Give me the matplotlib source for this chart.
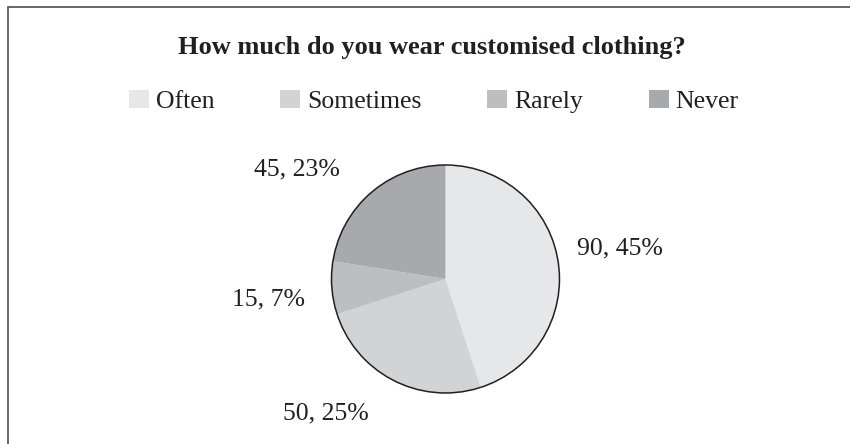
import matplotlib.pyplot as plt
from matplotlib.patches import Circle, Rectangle
import numpy as np

# data
categories = ["Often", "Sometimes", "Rarely", "Never"]
counts = [90, 50, 15, 45]
percent_labels = ["45%", "25%", "7%", "23%"]
title = "How much do you wear customised clothing?"

colors = ["#e6e7e8", "#d1d3d4", "#bcbec0", "#a7a9ac"]
label_dist = [1.55, 1.58, 1.56, 1.62]
label_nudge = [1, -14.7, 2, 13]  # degrees

plt.rcParams['font.family'] = ['Liberation Serif', 'DejaVu Serif']

fig = plt.figure(figsize=(8.5, 4.44), dpi=100)
ax = fig.add_axes([0.39, 0.1149, 0.2682, 0.5135])

wedges, _ = ax.pie(counts, colors=colors, startangle=90, counterclock=False,
                   radius=1, wedgeprops=dict(linewidth=0))
ax.add_patch(Circle((0, 0), 1, fill=False, edgecolor="#231f20", linewidth=1.1, clip_on=False))
ax.set_xlim(-1, 1)
ax.set_ylim(-1, 1)
ax.set_aspect('equal')
ax.axis('off')

for w, c, p, d, n in zip(wedges, counts, percent_labels, label_dist, label_nudge):
    ang = np.deg2rad((w.theta1 + w.theta2) / 2 + n)
    ax.text(d * np.cos(ang), d * np.sin(ang), f"{c}, {p}", ha='center', va='center',
            fontsize=18.5, color='#231f20', clip_on=False)

fig.text(0.508, 0.892, title, ha='center', va='center', fontsize=19,
         fontweight='bold', color='#231f20')

fig.legend(wedges, categories, loc='center', bbox_to_anchor=(0.5106, 0.7725),
           ncol=4, frameon=False, fontsize=18.5, handlelength=0.78, handleheight=0.7,
           handletextpad=0.27, columnspacing=2.55, labelcolor='#231f20')

# outer frame
fig.patches.append(Rectangle((8 / 850, -0.1), 1.2, 1 - 7 / 444 + 0.1, transform=fig.transFigure,
                             fill=False, edgecolor='#4d4d4f', linewidth=1.2))

fig.savefig("out.png", dpi=100)
